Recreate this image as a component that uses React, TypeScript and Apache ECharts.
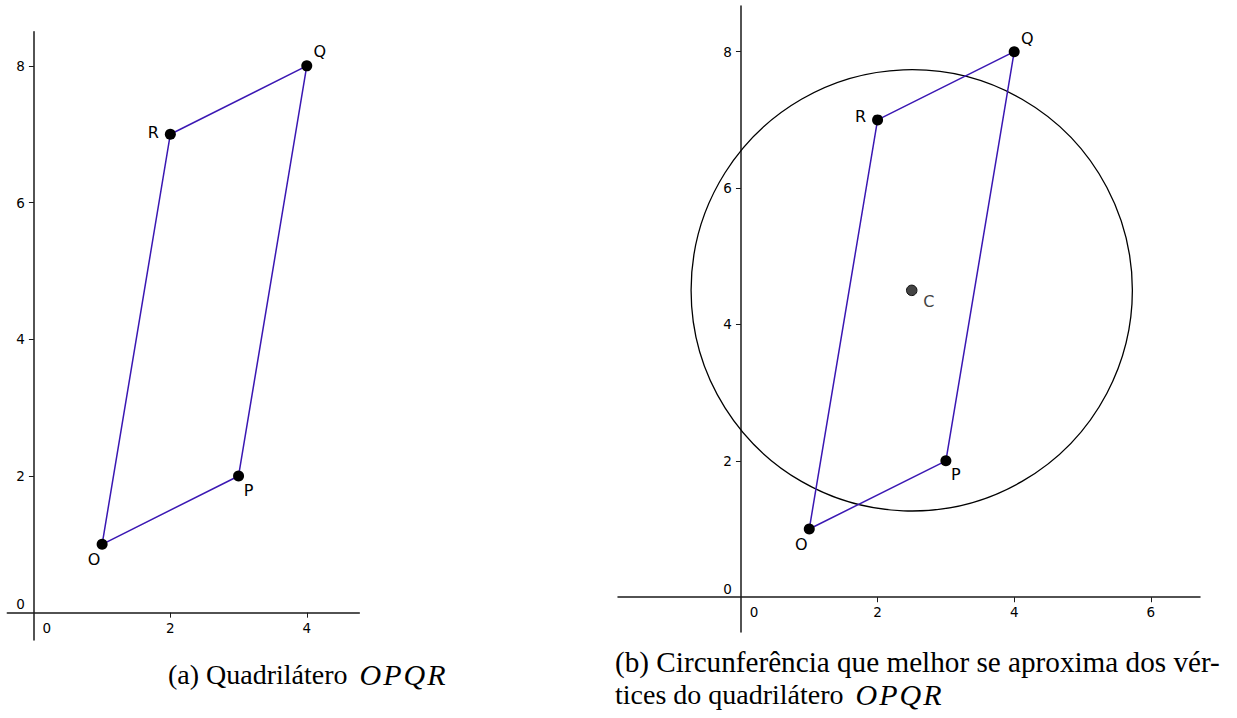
import React, { useEffect, useRef } from "react";
import * as echarts from "echarts";

// Vertices of quadrilateral OPQR
const vertexNames = ["O", "P", "Q", "R"];
const vertexX = [1, 3, 4, 2];
const vertexY = [1, 2, 8, 7];

// Best-fit circle (centre C and radius)
const centerName = "C";
const centerX = 2.5;
const centerY = 4.5;
const circleRadius = 3.23;

// Tick values per panel
const xTicksA = [0, 2, 4];
const yTicksA = [0, 2, 4, 6, 8];
const xTicksB = [0, 2, 4, 6];
const yTicksB = [0, 2, 4, 6, 8];

// Captions
const captionA = "(a) Quadrilátero ";
const captionB1 = "(b) Circunferência que melhor se aproxima dos vér-";
const captionB2 = "tices do quadrilátero ";
const captionMath = ["O", "P", "Q", "R"];

// Panel layouts: grid box in px and axis extents in data units
const panelA = { left: 7.3, top: 31.7, width: 352, height: 608.3, xMin: -0.39, xMax: 4.77, yMin: -0.4, yMax: 8.5 };
const panelB = { left: 618, top: 6, width: 582, height: 626, xMin: -1.8, xMax: 6.72, yMin: -0.51, yMax: 8.67 };

// Label offsets (px) for the vertex names, per panel
const offsetsA: Record<string, [number, number]> = {
  O: [-8, 15],
  P: [10, 15],
  Q: [13, -14],
  R: [-17, -2],
};
const offsetsB: Record<string, [number, number]> = {
  O: [-8, 15],
  P: [10, 14],
  Q: [13, -13],
  R: [-17, -3],
};
const offsetC: [number, number] = [17, 11];

const LINE_COLOR = "#3a17b3";
const AXIS_COLOR = "#1a1a1a";
const SANS = "DejaVu Sans";
const SERIF = "Liberation Serif";
const TICK_FONT = 13.5;

type Panel = typeof panelA;

// Axes are placed so that they cross at the origin (offset measured from grid edge)
function xAxisOf(gridIndex: number, p: Panel, ticks: number[]) {
  const offset = -((0 - p.yMin) / (p.yMax - p.yMin)) * p.height;
  return {
    type: "value",
    gridIndex,
    position: "bottom",
    offset,
    min: p.xMin,
    max: p.xMax,
    axisLine: { show: true, onZero: false, lineStyle: { color: AXIS_COLOR, width: 1.5 } },
    axisTick: {
      show: true,
      length: 5,
      customValues: ticks.filter((t) => t !== 0),
      lineStyle: { color: AXIS_COLOR, width: 1 },
    },
    axisLabel: {
      customValues: ticks,
      margin: 8,
      fontSize: TICK_FONT,
      fontFamily: SANS,
      color: "#000",
      formatter: (v: number) => (v === 0 ? "{z|0}" : String(v)),
      rich: { z: { padding: [0, 0, 0, 26], fontSize: TICK_FONT, fontFamily: SANS, color: "#000" } },
    },
    splitLine: { show: false },
  };
}

function yAxisOf(gridIndex: number, p: Panel, ticks: number[]) {
  const offset = -((0 - p.xMin) / (p.xMax - p.xMin)) * p.width;
  return {
    type: "value",
    gridIndex,
    position: "left",
    offset,
    min: p.yMin,
    max: p.yMax,
    axisLine: { show: true, onZero: false, lineStyle: { color: AXIS_COLOR, width: 1.5 } },
    axisTick: {
      show: true,
      length: 5,
      customValues: ticks.filter((t) => t !== 0),
      lineStyle: { color: AXIS_COLOR, width: 1 },
    },
    axisLabel: {
      customValues: ticks,
      margin: 9,
      fontSize: TICK_FONT,
      fontFamily: SANS,
      color: "#000",
      formatter: (v: number) => (v === 0 ? "{z|0}" : String(v)),
      rich: { z: { padding: [0, 0, 17, 0], fontSize: TICK_FONT, fontFamily: SANS, color: "#000" } },
    },
    splitLine: { show: false },
  };
}

function polygonData() {
  const pts = vertexX.map((x, i) => [x, vertexY[i]]);
  return [...pts, pts[0]];
}

function vertexData(offsets: Record<string, [number, number]>) {
  return vertexNames.map((n, i) => ({
    name: n,
    value: [vertexX[i], vertexY[i]],
    label: { offset: offsets[n] },
  }));
}

function quadSeries(idx: number, offsets: Record<string, [number, number]>) {
  return [
    {
      type: "line",
      xAxisIndex: idx,
      yAxisIndex: idx,
      data: polygonData(),
      symbol: "none",
      lineStyle: { color: LINE_COLOR, width: 1.5 },
      z: 3,
    },
    {
      type: "scatter",
      xAxisIndex: idx,
      yAxisIndex: idx,
      data: vertexData(offsets),
      symbol: "circle",
      symbolSize: 11,
      itemStyle: { color: "#000", opacity: 1 },
      label: {
        show: true,
        position: "inside",
        formatter: "{b}",
        color: "#000",
        fontSize: 16,
        fontFamily: SANS,
      },
      z: 4,
    },
  ];
}

// Math-style italic letters, each as its own rich token for wider spacing
function mathRich() {
  const style = { fontStyle: "italic", fontSize: 30, fontFamily: SERIF, fill: "#000", padding: [0, 2, 0, 0] };
  return { m: style, m0: { ...style, padding: [0, 2, 0, 5] } };
}
function mathText() {
  return captionMath.map((c, i) => `{${i === 0 ? "m0" : "m"}|${c}}`).join("");
}

export default function App() {
  const ref = useRef<HTMLDivElement>(null);

  useEffect(() => {
    if (!ref.current) return;
    const chart = echarts.init(ref.current, undefined, { renderer: "svg" });

    const gridOf = (p: Panel) => ({
      left: p.left,
      top: p.top,
      width: p.width,
      height: p.height,
      outerBoundsMode: "none",
      containLabel: false,
    });

    const option = {
      animation: false,
      backgroundColor: "#fff",
      grid: [gridOf(panelA), gridOf(panelB)],
      xAxis: [xAxisOf(0, panelA, xTicksA), xAxisOf(1, panelB, xTicksB)],
      yAxis: [yAxisOf(0, panelA, yTicksA), yAxisOf(1, panelB, yTicksB)],
      series: [
        ...quadSeries(0, offsetsA),
        {
          type: "custom",
          xAxisIndex: 1,
          yAxisIndex: 1,
          data: [[centerX, centerY, circleRadius]],
          encode: { x: 0, y: 1 },
          z: 2,
          renderItem: (_params: any, api: any) => {
            const c = api.coord([api.value(0), api.value(1)]);
            const r = api.size([api.value(2), 0])[0];
            return {
              type: "circle",
              shape: { cx: c[0], cy: c[1], r },
              style: { fill: "none", stroke: "#000", lineWidth: 1.3 },
            };
          },
        },
        ...quadSeries(1, offsetsB),
        {
          type: "scatter",
          xAxisIndex: 1,
          yAxisIndex: 1,
          data: [{ name: centerName, value: [centerX, centerY] }],
          symbol: "circle",
          symbolSize: 10.5,
          itemStyle: { color: "#444", borderColor: "#111", borderWidth: 1, opacity: 1 },
          label: {
            show: true,
            position: "inside",
            offset: offsetC,
            formatter: "{b}",
            color: "#444",
            fontSize: 16,
            fontFamily: SANS,
          },
          z: 4,
        },
      ],
      graphic: [
        {
          type: "text",
          left: 168,
          top: 659,
          style: {
            text: captionA + mathText(),
            font: `28px "${SERIF}"`,
            fill: "#000",
            rich: mathRich(),
          },
        },
        {
          type: "text",
          left: 615,
          top: 647,
          style: {
            text: captionB1,
            font: `29.2px "${SERIF}"`,
            fill: "#000",
          },
        },
        {
          type: "text",
          left: 615,
          top: 679,
          style: {
            text: captionB2 + mathText(),
            font: `28px "${SERIF}"`,
            fill: "#000",
            rich: mathRich(),
          },
        },
      ],
    };

    chart.setOption(option as any);
    return () => chart.dispose();
  }, []);

  return (
    <div
      ref={ref}
      style={{ position: "absolute", left: 0, top: 0, width: 1237, height: 718 }}
    />
  );
}
